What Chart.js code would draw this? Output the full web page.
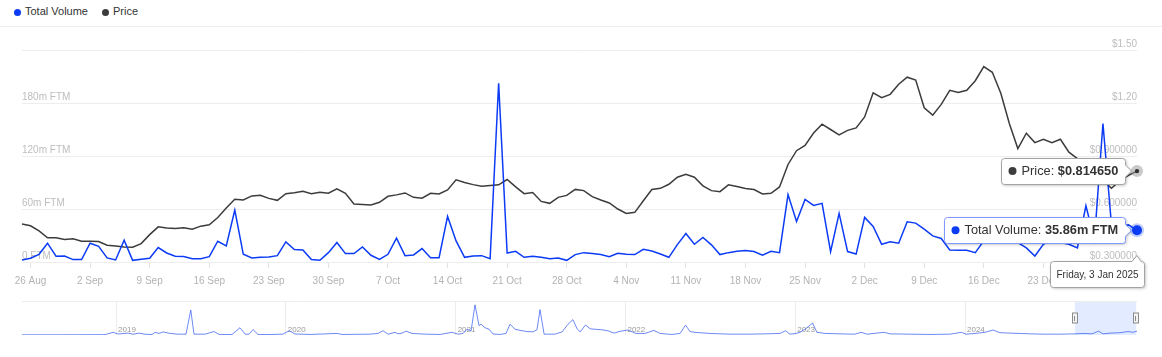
<!DOCTYPE html>
<html><head><meta charset="utf-8">
<script src="https://cdn.jsdelivr.net/npm/chart.js@4.4.1/dist/chart.umd.min.js"></script>
<style>
html,body{margin:0;padding:0;background:#fff;}
body{width:1162px;height:357px;position:relative;overflow:hidden;font-family:'Liberation Sans',Arial,sans-serif;}
#legend{position:absolute;left:0;top:0;width:1162px;height:26px;border-bottom:1px solid #ececec;}
.dot{position:absolute;width:7px;height:7px;border-radius:50%;top:9px;}
.txt{position:absolute;top:4px;font-size:11px;line-height:15px;color:#333;white-space:nowrap;}
#main{position:absolute;left:0;top:28px;}
#nav{position:absolute;left:0;top:298px;}
</style></head>
<body>
<div id="legend">
  <span class="dot" style="left:14px;background:#0b3bf5"></span><span class="txt" style="left:25px">Total Volume</span>
  <span class="dot" style="left:102px;background:#3c3c3c"></span><span class="txt" style="left:113px">Price</span>
</div>
<canvas id="main" width="1162" height="270"></canvas>
<canvas id="nav" width="1162" height="40"></canvas>
<script>
// ---------- data (daily, 25 Aug 2024 -> 3 Jan 2025) ----------
const startDay = [2024, 7, 25];
const volumeValues = [
  2.3, 4.2, 8.7, 21.3, 6.5, 6.8, 2.7, 2.7, 21.3, 17.8,
  4.6, 2.3, 24.7, 1.9, 3.0, 4.2, 16.3, 10.2, 6.5, 6.1,
  3.8, 3.8, 6.1, 23.5, 18.2, 58.8, 8.7, 4.6, 5.3, 5.7,
  7.2, 22.8, 14.2, 13.7, 2.7, 1.9, 10.6, 22.0, 9.5, 9.5,
  17.1, 7.6, 3.0, 8.7, 27.0, 7.2, 8.0, 15.2, 4.9, 4.9,
  51.6, 23.9, 5.3, 6.8, 7.2, 3.8, 202.3, 10.2, 12.1, 5.3,
  6.5, 5.3, 3.8, 4.6, 1.9, 8.4, 10.6, 9.5, 8.4, 6.1,
  9.9, 8.7, 8.4, 14.4, 12.5, 9.1, 5.3, 19.7, 32.2, 20.1,
  27.7, 19.4, 8.4, 10.6, 12.1, 12.9, 11.8, 7.6, 12.1, 10.6,
  76.3, 45.9, 70.9, 64.1, 66.4, 11.8, 55.0, 11.8, 9.0, 50.5,
  40.2, 20.1, 22.8, 21.3, 45.5, 44.0, 37.2, 29.6, 26.6, 13.7,
  13.3, 13.3, 10.6, 24.0, 27.0, 30.0, 25.0, 22.0, 16.0, 6.8,
  20.0, 25.0, 22.0, 20.0, 16.0, 63.7, 25.0, 156.8, 42.0, 40.0,
  42.0, 35.86
];
const priceValues = [
  0.515, 0.505, 0.476, 0.437, 0.437, 0.427, 0.431, 0.418, 0.418, 0.416,
  0.395, 0.391, 0.385, 0.384, 0.404, 0.455, 0.499, 0.492, 0.490, 0.494,
  0.486, 0.503, 0.511, 0.552, 0.606, 0.655, 0.651, 0.674, 0.678, 0.660,
  0.649, 0.687, 0.692, 0.700, 0.687, 0.695, 0.689, 0.714, 0.689, 0.628,
  0.626, 0.623, 0.638, 0.672, 0.680, 0.691, 0.666, 0.661, 0.689, 0.685,
  0.708, 0.765, 0.750, 0.738, 0.729, 0.733, 0.737, 0.767, 0.725, 0.687,
  0.693, 0.643, 0.632, 0.666, 0.677, 0.711, 0.704, 0.670, 0.651, 0.634,
  0.600, 0.575, 0.581, 0.647, 0.710, 0.717, 0.740, 0.780, 0.797, 0.780,
  0.731, 0.704, 0.698, 0.737, 0.727, 0.716, 0.710, 0.685, 0.689, 0.725,
  0.852, 0.930, 0.960, 1.030, 1.080, 1.050, 1.020, 1.045, 1.059, 1.121,
  1.258, 1.230, 1.249, 1.306, 1.346, 1.330, 1.173, 1.131, 1.192, 1.272,
  1.260, 1.272, 1.326, 1.406, 1.374, 1.255, 1.084, 0.942, 1.029, 0.976,
  0.995, 0.976, 0.995, 0.922, 0.885, 0.846, 0.807, 0.763, 0.717, 0.760,
  0.790, 0.81465
];
const weekTickLabels = ['26 Aug','2 Sep','9 Sep','16 Sep','23 Sep','30 Sep','7 Oct','14 Oct','21 Oct','28 Oct',
  '4 Nov','11 Nov','18 Nov','25 Nov','2 Dec','9 Dec','16 Dec','23 Dec','30 Dec'];
const volumeTickValues = [0, 60, 120, 180, 240];
const volumeTickLabels = ['0 FTM', '60m FTM', '120m FTM', '180m FTM', ''];
const priceTickValues = [0.3, 0.6, 0.9, 1.2, 1.5];
const priceTickLabels = ['$0.300000', '$0.600000', '$0.900000', '$1.20', '$1.50'];

// ---------- navigator (full history, decimal years) ----------
const navYears = [
  2018.446, 2018.670, 2018.935, 2018.982, 2019.012, 2019.071, 2019.100, 2019.135, 2019.171, 2019.212,
  2019.230, 2019.253, 2019.277, 2019.318, 2019.365, 2019.412, 2019.440, 2019.459, 2019.524, 2019.577,
  2019.607, 2019.683, 2019.730, 2019.760, 2019.783, 2019.807, 2019.836, 2019.907, 2019.983, 2020.019,
  2020.054, 2020.143, 2020.302, 2020.331, 2020.496, 2020.543, 2020.572, 2020.602, 2020.643, 2020.661,
  2020.684, 2020.708, 2020.743, 2020.820, 2020.908, 2020.979, 2021.014, 2021.044, 2021.067, 2021.091,
  2021.114, 2021.138, 2021.150, 2021.173, 2021.197, 2021.220, 2021.261, 2021.297, 2021.320, 2021.350,
  2021.379, 2021.420, 2021.456, 2021.479, 2021.497, 2021.521, 2021.585, 2021.627, 2021.662, 2021.691,
  2021.715, 2021.733, 2021.765, 2021.792, 2021.821, 2021.862, 2021.898, 2021.933, 2021.968, 2022.015,
  2022.062, 2022.115, 2022.168, 2022.204, 2022.274, 2022.322, 2022.354, 2022.380, 2022.410, 2022.498,
  2022.616, 2022.734, 2022.822, 2022.910, 2022.943, 2022.969, 2023.005, 2023.028, 2023.064, 2023.102,
  2023.128, 2023.175, 2023.264, 2023.352, 2023.388, 2023.423, 2023.523, 2023.558, 2023.676, 2023.794,
  2023.912, 2023.979, 2024.006, 2024.059, 2024.118, 2024.165, 2024.206, 2024.265, 2024.324, 2024.383,
  2024.471, 2024.559, 2024.648, 2024.707, 2024.748, 2024.786, 2024.813, 2024.854, 2024.913, 2024.960,
  2024.989, 2025.013
];
const navVolume = [
  11, 11, 17, 143, 55, 99, 39, 99, 39, 28,
  143, 83, 165, 83, 44, 44, 1320, 44, 44, 182,
  28, 28, 385, 44, 44, 286, 28, 28, 44, 226,
  55, 28, 83, 28, 44, 83, 226, 44, 143, 61,
  99, 204, 83, 44, 28, 143, 44, 83, 303, 220,
  1595, 495, 572, 385, 303, 55, 28, 83, 572, 303,
  248, 182, 165, 275, 1342, 44, 44, 165, 572, 814,
  330, 165, 528, 330, 303, 275, 220, 99, 193, 264,
  83, 83, 242, 83, 28, 83, 528, 182, 138, 83,
  44, 44, 61, 83, 226, 44, 83, 143, 347, 633,
  143, 83, 61, 44, 143, 44, 143, 61, 44, 28,
  44, 143, 44, 83, 143, 264, 121, 99, 83, 61,
  44, 44, 61, 83, 61, 204, 61, 99, 121, 182,
  143, 204
];
const navYearTicks = [2019, 2020, 2021, 2022, 2023, 2024];
const navYearLabels = ['2019', '2020', '2021', '2022', '2023', '2024'];
const navSelection = [2024.647, 2025.008];

// ---------- helpers ----------
const MONTHS = ['Jan','Feb','Mar','Apr','May','Jun','Jul','Aug','Sep','Oct','Nov','Dec'];
const DAYS = ['Sunday','Monday','Tuesday','Wednesday','Thursday','Friday','Saturday'];
const dates = volumeValues.map((_, i) => new Date(startDay[0], startDay[1], startDay[2] + i));
const categories = dates.map(d => d.getDate() + ' ' + MONTHS[d.getMonth()]);
const FONT = "'Liberation Sans', Arial, sans-serif";
Chart.defaults.font.family = FONT;

function roundBoxPath(ctx, left, top, w, h, r, caret) {
  const right = left + w, bottom = top + h;
  ctx.beginPath();
  ctx.moveTo(left + r, top);
  if (caret && caret.side === 'top') {
    ctx.lineTo(caret.x - 5, top); ctx.lineTo(caret.x, top - 6); ctx.lineTo(caret.x + 4, top);
  }
  ctx.lineTo(right - r, top);
  ctx.arcTo(right, top, right, top + r, r);
  if (caret && caret.side === 'right') {
    ctx.lineTo(right, caret.y - 6); ctx.lineTo(right + 6, caret.y); ctx.lineTo(right, caret.y + 6);
  }
  ctx.lineTo(right, bottom - r);
  ctx.arcTo(right, bottom, right - r, bottom, r);
  ctx.lineTo(left + r, bottom);
  ctx.arcTo(left, bottom, left, bottom - r, r);
  ctx.lineTo(left, top + r);
  ctx.arcTo(left, top, left + r, top, r);
  ctx.closePath();
}

function drawTip(ctx, o) {
  ctx.save();
  const fs = 12.8;
  ctx.font = fs + 'px ' + FONT; const w1 = ctx.measureText(o.label).width;
  ctx.font = 'bold ' + fs + 'px ' + FONT; const w2 = ctx.measureText(o.value).width;
  const h = 26, w = Math.round(20 + w1 + w2 + 7);
  const right = Math.round(o.right) + 0.5, left = right - w, top = Math.round(o.cy - h / 2) + 0.5;
  roundBoxPath(ctx, left, top, w, h, 3, {side: 'right', y: o.cy});
  ctx.shadowColor = 'rgba(0,0,0,0.28)'; ctx.shadowBlur = 3; ctx.shadowOffsetX = 1; ctx.shadowOffsetY = 1;
  ctx.fillStyle = '#ffffff'; ctx.fill();
  ctx.shadowColor = 'transparent';
  ctx.strokeStyle = o.border; ctx.lineWidth = 1; ctx.stroke();
  ctx.beginPath(); ctx.arc(left + 11, o.cy, 4, 0, Math.PI * 2); ctx.fillStyle = o.dot; ctx.fill();
  ctx.textBaseline = 'middle'; ctx.textAlign = 'left'; ctx.fillStyle = '#333333';
  ctx.font = fs + 'px ' + FONT; ctx.fillText(o.label, left + 20, o.cy + 0.5);
  ctx.font = 'bold ' + fs + 'px ' + FONT; ctx.fillText(o.value, left + 20 + w1, o.cy + 0.5);
  ctx.restore();
}

const lastPointPlugin = {
  id: 'lastPointTips',
  afterDraw(chart) {
    const ctx = chart.ctx, area = chart.chartArea;
    const last = volumeValues.length - 1;
    const px = chart.scales.x.getPixelForValue(last);
    const pyP = chart.scales.yPrice.getPixelForValue(priceValues[last]);
    const pyV = chart.scales.yVol.getPixelForValue(volumeValues[last]);
    drawTip(ctx, {right: px - 12, cy: pyP, label: 'Price: ', value: '$' + priceValues[last].toFixed(6), dot: '#3c3c3c', border: '#a3a3a3'});
    drawTip(ctx, {right: px - 12, cy: pyV, label: 'Total Volume: ', value: volumeValues[last].toFixed(2) + 'm FTM', dot: '#0b3bf5', border: '#7f98ff'});
    ctx.save();
    // markers
    ctx.beginPath(); ctx.arc(px, pyP, 6, 0, Math.PI * 2); ctx.fillStyle = 'rgba(150,150,150,0.5)'; ctx.fill();
    ctx.beginPath(); ctx.arc(px, pyP, 2.2, 0, Math.PI * 2); ctx.fillStyle = '#333'; ctx.fill();
    ctx.beginPath(); ctx.arc(px, pyV, 7, 0, Math.PI * 2); ctx.fillStyle = 'rgba(11,59,245,0.25)'; ctx.fill();
    ctx.beginPath(); ctx.arc(px, pyV, 5, 0, Math.PI * 2); ctx.fillStyle = '#0b3bf5'; ctx.fill();
    // date tooltip
    const d = dates[last];
    const dateText = DAYS[d.getDay()] + ', ' + d.getDate() + ' ' + MONTHS[d.getMonth()] + ' ' + d.getFullYear();
    ctx.font = '10px ' + FONT;
    const tw = ctx.measureText(dateText).width;
    const w = Math.round(tw + 12), h = 26;
    const right = Math.round(px + 7) + 0.5, left = right - w, top = Math.round(area.bottom) - 0.5;
    roundBoxPath(ctx, left, top, w, h, 3, {side: 'top', x: px});
    ctx.shadowColor = 'rgba(0,0,0,0.28)'; ctx.shadowBlur = 3; ctx.shadowOffsetX = 1; ctx.shadowOffsetY = 1;
    ctx.fillStyle = '#fff'; ctx.fill();
    ctx.shadowColor = 'transparent';
    ctx.strokeStyle = '#a3a3a3'; ctx.lineWidth = 1; ctx.stroke();
    ctx.fillStyle = '#333'; ctx.textBaseline = 'middle'; ctx.textAlign = 'left';
    ctx.fillText(dateText, left + 6, top + h / 2 + 0.5);
    ctx.restore();
  }
};

new Chart(document.getElementById('main'), {
  type: 'line',
  data: {
    labels: categories,
    datasets: [
      {label: 'Total Volume', data: volumeValues, yAxisID: 'yVol', borderColor: '#0b3bf5', borderWidth: 1.5, pointRadius: 0, tension: 0, fill: false},
      {label: 'Price', data: priceValues, yAxisID: 'yPrice', borderColor: '#3c3c3c', borderWidth: 1.5, pointRadius: 0, tension: 0, fill: false}
    ]
  },
  options: {
    responsive: false, animation: false, devicePixelRatio: 1,
    layout: {padding: {left: 22, right: 25, top: 22, bottom: 4}},
    plugins: {legend: {display: false}, tooltip: {enabled: false}},
    scales: {
      x: {
        type: 'category', offset: false,
        afterBuildTicks: s => { s.ticks = s.ticks.filter(t => weekTickLabels.includes(categories[t.value])); },
        grid: {display: true, drawOnChartArea: false, drawTicks: true, tickLength: 6, color: '#e3e3e3'},
        border: {display: false},
        ticks: {autoSkip: false, maxRotation: 0, padding: 7, color: '#b3b3b3', font: {size: 10},
          callback: v => categories[v]}
      },
      yVol: {
        position: 'left', min: 0, max: 240,
        afterBuildTicks: s => { s.ticks = volumeTickValues.map(v => ({value: v})); },
        grid: {color: '#ededed', drawTicks: false},
        border: {display: false},
        ticks: {mirror: true, padding: 0, labelOffset: -6, color: '#bdbdbd', font: {size: 10},
          callback: (v, i) => volumeTickLabels[volumeTickValues.indexOf(v)]}
      },
      yPrice: {
        position: 'right', min: 0.3, max: 1.5,
        afterBuildTicks: s => { s.ticks = priceTickValues.map(v => ({value: v})); },
        grid: {display: false, drawTicks: false},
        border: {display: false},
        ticks: {mirror: true, padding: 0, labelOffset: -6, color: '#bdbdbd', font: {size: 10},
          callback: (v, i) => priceTickLabels[i]}
      }
    }
  },
  plugins: [lastPointPlugin]
});

// ---------- navigator ----------
const navPlugin = {
  id: 'navDecor',
  beforeDatasetsDraw(chart) {
    const ctx = chart.ctx, a = chart.chartArea, xs = chart.scales.x;
    ctx.save();
    ctx.strokeStyle = '#ececec'; ctx.lineWidth = 1;
    ctx.beginPath(); ctx.moveTo(a.left, Math.round(a.top) + 0.5); ctx.lineTo(a.right, Math.round(a.top) + 0.5); ctx.stroke();
    const x0 = xs.getPixelForValue(navSelection[0]), x1 = xs.getPixelForValue(navSelection[1]);
    ctx.fillStyle = 'rgba(214,226,255,0.7)';
    ctx.fillRect(x0, a.top + 1, x1 - x0, a.bottom - a.top - 1);
    ctx.fillStyle = '#9a9a9a'; ctx.font = '8px ' + FONT; ctx.textBaseline = 'alphabetic'; ctx.textAlign = 'left';
    navYearTicks.forEach((y, i) => ctx.fillText(navYearLabels[i], xs.getPixelForValue(y) + 2, a.bottom - 3));
    ctx.restore();
  },
  afterDatasetsDraw(chart) {
    const ctx = chart.ctx, a = chart.chartArea, xs = chart.scales.x;
    ctx.save();
    const cy = (a.top + a.bottom) / 2;
    navSelection.forEach(v => {
      const x = Math.round(xs.getPixelForValue(v));
      ctx.fillStyle = '#f4f4f4'; ctx.strokeStyle = '#8c8c8c'; ctx.lineWidth = 1;
      ctx.fillRect(x - 3, cy - 5.5, 6, 11); ctx.strokeRect(x - 2.5, cy - 5, 5, 10);
      ctx.beginPath(); ctx.moveTo(x - 0.5, cy - 2); ctx.lineTo(x - 0.5, cy + 3); ctx.stroke();
    });
    ctx.restore();
  }
};

new Chart(document.getElementById('nav'), {
  type: 'line',
  data: {
    datasets: [{data: navYears.map((y, i) => ({x: y, y: navVolume[i]})), borderColor: 'rgba(60,98,240,0.75)', borderWidth: 1, pointRadius: 0, tension: 0, fill: false}]
  },
  options: {
    responsive: false, animation: false, devicePixelRatio: 1,
    layout: {padding: {left: 22, right: 25, top: 3, bottom: 3}},
    plugins: {legend: {display: false}, tooltip: {enabled: false}},
    scales: {
      x: {type: 'linear', min: navYears[0], max: navYears[navYears.length - 1],
        afterBuildTicks: s => { s.ticks = navYearTicks.map(v => ({value: v})); },
        grid: {color: '#ececec', drawTicks: false}, border: {display: false}, ticks: {display: false}},
      y: {min: 0, max: 1800, display: false}
    }
  },
  plugins: [navPlugin]
});
</script>
</body></html>
